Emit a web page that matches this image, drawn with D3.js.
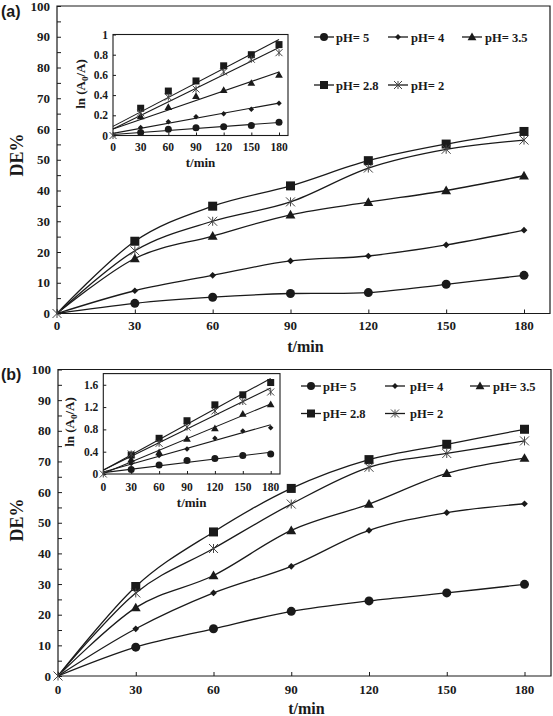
<!DOCTYPE html>
<html><head><meta charset="utf-8">
<script src="https://cdn.jsdelivr.net/npm/d3@7"></script>
<style>body{margin:0;background:#fff}svg{display:block}</style>
</head><body><svg id="c" width="553" height="716"></svg>
<script>
// ---------- data ----------
const times = [0, 30, 60, 90, 120, 150, 180];
const seriesLabels = ["pH= 5", "pH= 4", "pH= 3.5", "pH= 2.8", "pH= 2"];
const markerTypes = ["circle", "diamond", "triangle", "square", "asterisk"];
const xTicks = [0, 30, 60, 90, 120, 150, 180];
const mainYTicks = [0, 10, 20, 30, 40, 50, 60, 70, 80, 90, 100];
const insetATicks = [0, 0.2, 0.4, 0.6, 0.8, 1];
const insetBTicks = [0, 0.4, 0.8, 1.2, 1.6];

// Panel (a) DE%
const deA_pH5  = [0, 3.3, 5.3, 6.5, 6.8, 9.5, 12.4];
const deA_pH4  = [0, 7.4, 12.4, 17.1, 18.7, 22.3, 27.1];
const deA_pH35 = [0, 17.9, 25.2, 32.1, 36.2, 40.0, 44.8];
const deA_pH28 = [0, 23.5, 34.9, 41.5, 49.7, 55.1, 59.2];
const deA_pH2  = [0, 20.4, 30.0, 36.3, 47.3, 53.4, 56.4];
// Panel (a) inset ln(A0/A)
const lnA_pH5  = [0, 0.03, 0.063, 0.076, 0.086, 0.10, 0.13];
const lnA_pH4  = [0, 0.08, 0.136, 0.185, 0.215, 0.26, 0.32];
const lnA_pH35 = [0, 0.19, 0.28, 0.39, 0.45, 0.52, 0.60];
const lnA_pH28 = [0, 0.27, 0.44, 0.54, 0.69, 0.80, 0.90];
const lnA_pH2  = [0, 0.225, 0.38, 0.46, 0.63, 0.755, 0.82];

// Panel (b) DE%
const deB_pH5  = [0, 9.4, 15.4, 21.1, 24.5, 27.1, 29.9];
const deB_pH4  = [0, 15.4, 27.1, 35.8, 47.5, 53.3, 56.2];
const deB_pH35 = [0, 22.3, 32.8, 47.5, 56.1, 66.1, 71.1];
const deB_pH28 = [0, 29.2, 47.0, 61.2, 70.6, 75.6, 80.5];
const deB_pH2  = [0, 27.1, 41.6, 56.1, 68.1, 72.6, 76.7];
// Panel (b) inset ln(A0/A)
const lnB_pH5  = [0, 0.08, 0.16, 0.24, 0.28, 0.33, 0.36];
const lnB_pH4  = [0, 0.19, 0.33, 0.45, 0.64, 0.77, 0.83];
const lnB_pH35 = [0, 0.26, 0.39, 0.63, 0.82, 1.08, 1.25];
const lnB_pH28 = [0, 0.34, 0.64, 0.955, 1.24, 1.42, 1.64];
const lnB_pH2  = [0, 0.36, 0.55, 0.84, 1.13, 1.30, 1.47];

// ---------- drawing ----------
const svg = d3.select("#c");
const INK = "#1a1a1a";
const SERIF = "'Liberation Serif','Times New Roman',serif";

function drawMarker(g, type, x, y, s) {
  if (type === "circle") {
    g.append("circle").attr("cx", x).attr("cy", y).attr("r", s * 0.5).attr("fill", INK);
  } else if (type === "diamond") {
    const r = s * 0.42;
    g.append("path").attr("d", `M${x},${y - r}L${x + r},${y}L${x},${y + r}L${x - r},${y}Z`).attr("fill", INK);
  } else if (type === "triangle") {
    const r = s * 0.55;
    g.append("path").attr("d", `M${x},${y - r}L${x + r},${y + r * 0.75}L${x - r},${y + r * 0.75}Z`).attr("fill", INK);
  } else if (type === "square") {
    const r = s * 0.5;
    g.append("rect").attr("x", x - r).attr("y", y - r).attr("width", 2 * r).attr("height", 2 * r).attr("fill", INK);
  } else if (type === "asterisk") {
    const r = s * 0.5;
    g.append("path").attr("d", `M${x - r},${y - r}L${x + r},${y + r}M${x - r},${y + r}L${x + r},${y - r}M${x},${y - r}L${x},${y + r}`)
      .attr("stroke", "#444").attr("stroke-width", 1).attr("fill", "none");
  }
}

function linfit(xs, ys) {
  const n = xs.length, mx = d3.mean(xs), my = d3.mean(ys);
  let sxy = 0, sxx = 0;
  for (let i = 0; i < n; i++) { sxy += (xs[i] - mx) * (ys[i] - my); sxx += (xs[i] - mx) ** 2; }
  const b = sxy / sxx; return { b, a: my - b * mx };
}

function drawPanel(cfg) {
  const g = svg.append("g");
  const x = d3.scaleLinear([0, 180], [cfg.x0, cfg.x1]);
  const y = d3.scaleLinear([0, 100], [cfg.yBottom, cfg.yTop]);

  // frame
  g.append("path").attr("d", `M${cfg.x0},${cfg.yTop}H${cfg.right}V${cfg.yBottom}H${cfg.x0}Z`)
    .attr("fill", "none").attr("stroke", INK).attr("stroke-width", 1.2);

  // y axis (ticks inside)
  const yAx = g.append("g").attr("transform", `translate(${cfg.x0},0)`)
    .call(d3.axisRight(y).tickValues(d3.range(0, 101, 5)).tickSize(4).tickFormat(""));
  yAx.select(".domain").remove();
  yAx.selectAll("line").attr("stroke", INK);
  g.selectAll(".ylab").data(mainYTicks).join("text")
    .attr("x", cfg.x0 - 7).attr("y", d => y(d) + 4.5).attr("text-anchor", "end")
    .attr("font-family", SERIF).attr("font-weight", "bold").attr("font-size", 13).attr("fill", INK).text(d => d);

  // x axis (ticks inside)
  const xAx = g.append("g").attr("transform", `translate(0,${cfg.yBottom})`)
    .call(d3.axisTop(x).tickValues(xTicks).tickSize(4).tickFormat(""));
  xAx.select(".domain").remove();
  xAx.selectAll("line").attr("stroke", INK);
  g.selectAll(".xlab").data(xTicks).join("text")
    .attr("x", d => x(d)).attr("y", cfg.xTickY).attr("text-anchor", "middle")
    .attr("font-family", SERIF).attr("font-weight", "bold").attr("font-size", 13).attr("fill", INK).text(d => d);

  g.append("text").attr("x", (cfg.x0 + cfg.right) / 2 + 2).attr("y", cfg.xTitleY).attr("text-anchor", "middle")
    .attr("font-family", SERIF).attr("font-weight", "bold").attr("font-size", 16).attr("fill", INK).text("t/min");
  g.append("text").attr("transform", `translate(${cfg.yTitleX},${cfg.yTitleY}) rotate(-90)`).attr("text-anchor", "middle")
    .attr("font-family", SERIF).attr("font-weight", "bold").attr("font-size", 18).attr("fill", INK).text("DE%");
  g.append("text").attr("x", 1).attr("y", cfg.labelY)
    .attr("font-family", "'Liberation Sans',Arial,sans-serif").attr("font-weight", "bold").attr("font-size", 16).attr("fill", INK).text(cfg.label);

  // series
  const line = d3.line().x((d, i) => x(times[i])).y(d => y(d)).curve(d3.curveCardinal.tension(0));
  cfg.series.forEach((s, k) => {
    g.append("path").attr("d", line(s)).attr("fill", "none").attr("stroke", INK).attr("stroke-width", 1.3);
  });
  cfg.series.forEach((s, k) => {
    s.forEach((v, i) => {
      if (i === 0 && markerTypes[k] !== "asterisk") return;
      drawMarker(g, markerTypes[k], x(times[i]), y(v), markerTypes[k] === "diamond" ? 8 : 9);
    });
  });

  // legend
  const L = cfg.legend;
  seriesLabels.forEach((lab, k) => {
    const row = k < 3 ? 0 : 1, col = k < 3 ? k : k - 3;
    const ly = L.rows[row], c = L.cols[col];
    g.append("line").attr("x1", c.l).attr("x2", c.l + 20).attr("y1", ly).attr("y2", ly).attr("stroke", INK).attr("stroke-width", 1.3);
    drawMarker(g, markerTypes[k], c.l + 10, ly, markerTypes[k] === "diamond" ? 7 : 8);
    g.append("text").attr("x", c.t).attr("y", ly + 4.5)
      .attr("font-family", SERIF).attr("font-weight", "bold").attr("font-size", 12.5).attr("fill", INK).text(lab);
  });

  // inset
  const I = cfg.inset;
  const ig = g.append("g");
  const ix = d3.scaleLinear([0, 180], [I.left, I.x1]);
  const iy = d3.scaleLinear([0, I.yMax], [I.bottom, I.top]);
  ig.append("rect").attr("x", I.left).attr("y", I.top).attr("width", I.right - I.left).attr("height", I.bottom - I.top)
    .attr("fill", "#fff").attr("stroke", INK).attr("stroke-width", 1.1);
  const iyAx = ig.append("g").attr("transform", `translate(${I.left},0)`)
    .call(d3.axisRight(iy).tickValues(I.ticks).tickSize(3).tickFormat(""));
  iyAx.select(".domain").remove(); iyAx.selectAll("line").attr("stroke", INK);
  const ixAx = ig.append("g").attr("transform", `translate(0,${I.bottom})`)
    .call(d3.axisTop(ix).tickValues(xTicks).tickSize(3).tickFormat(""));
  ixAx.select(".domain").remove(); ixAx.selectAll("line").attr("stroke", INK);
  ig.selectAll(".iyl").data(I.ticks).join("text")
    .attr("x", I.left - 5).attr("y", d => iy(d) + 4).attr("text-anchor", "end")
    .attr("font-family", SERIF).attr("font-weight", "bold").attr("font-size", 11.5).attr("fill", INK).text(d => d);
  ig.selectAll(".ixl").data(xTicks).join("text")
    .attr("x", d => ix(d)).attr("y", I.xTickY).attr("text-anchor", "middle")
    .attr("font-family", SERIF).attr("font-weight", "bold").attr("font-size", 11.5).attr("fill", INK).text(d => d);
  ig.append("text").attr("x", (I.left + I.right) / 2).attr("y", I.xTitleY).attr("text-anchor", "middle")
    .attr("font-family", SERIF).attr("font-weight", "bold").attr("font-size", 13).attr("fill", INK).text("t/min");
  const yl = ig.append("text").attr("transform", `translate(${I.yLabX},${I.yLabY}) rotate(-90)`).attr("text-anchor", "middle")
    .attr("font-family", SERIF).attr("font-weight", "bold").attr("font-size", 13).attr("fill", INK);
  yl.append("tspan").text("ln (A");
  yl.append("tspan").attr("font-size", 9).attr("dy", 3).text("0");
  yl.append("tspan").attr("dy", -3).text("/A)");

  I.series.forEach((s, k) => {
    const f = linfit(times, s);
    ig.append("line").attr("x1", ix(0)).attr("y1", iy(f.a)).attr("x2", ix(180)).attr("y2", iy(f.a + f.b * 180))
      .attr("stroke", INK).attr("stroke-width", 1.1);
  });
  I.series.forEach((s, k) => {
    s.forEach((v, i) => {
      if (i === 0 && markerTypes[k] !== "asterisk") return;
      drawMarker(ig, markerTypes[k], ix(times[i]), iy(v), markerTypes[k] === "diamond" ? 6.5 : 7);
    });
  });
}

drawPanel({
  label: "(a)", labelY: 17, x0: 57, x1: 524, right: 550, yTop: 6, yBottom: 313.5,
  xTickY: 330, xTitleY: 352, yTitleX: 23, yTitleY: 155,
  series: [deA_pH5, deA_pH4, deA_pH35, deA_pH28, deA_pH2],
  legend: { rows: [37, 85], cols: [{ l: 314, t: 336 }, { l: 388, t: 411 }, { l: 462, t: 485 }] },
  inset: { left: 113, x1: 279, right: 288, top: 34.5, bottom: 135.5, yMax: 1, ticks: insetATicks,
           xTickY: 151, xTitleY: 167, yLabX: 85, yLabY: 84,
           series: [lnA_pH5, lnA_pH4, lnA_pH35, lnA_pH28, lnA_pH2] }
});
drawPanel({
  label: "(b)", labelY: 380, x0: 58, x1: 524.5, right: 551, yTop: 369.5, yBottom: 676,
  xTickY: 694, xTitleY: 714, yTitleX: 23, yTitleY: 520,
  series: [deB_pH5, deB_pH4, deB_pH35, deB_pH28, deB_pH2],
  legend: { rows: [386, 413.5], cols: [{ l: 301, t: 323 }, { l: 385, t: 410 }, { l: 470, t: 493 }] },
  inset: { left: 103.3, x1: 270.7, right: 280, top: 373.6, bottom: 474, yMax: 1.8, ticks: insetBTicks,
           xTickY: 491, xTitleY: 507, yLabX: 74, yLabY: 422,
           series: [lnB_pH5, lnB_pH4, lnB_pH35, lnB_pH28, lnB_pH2] }
});
</script></body></html>
